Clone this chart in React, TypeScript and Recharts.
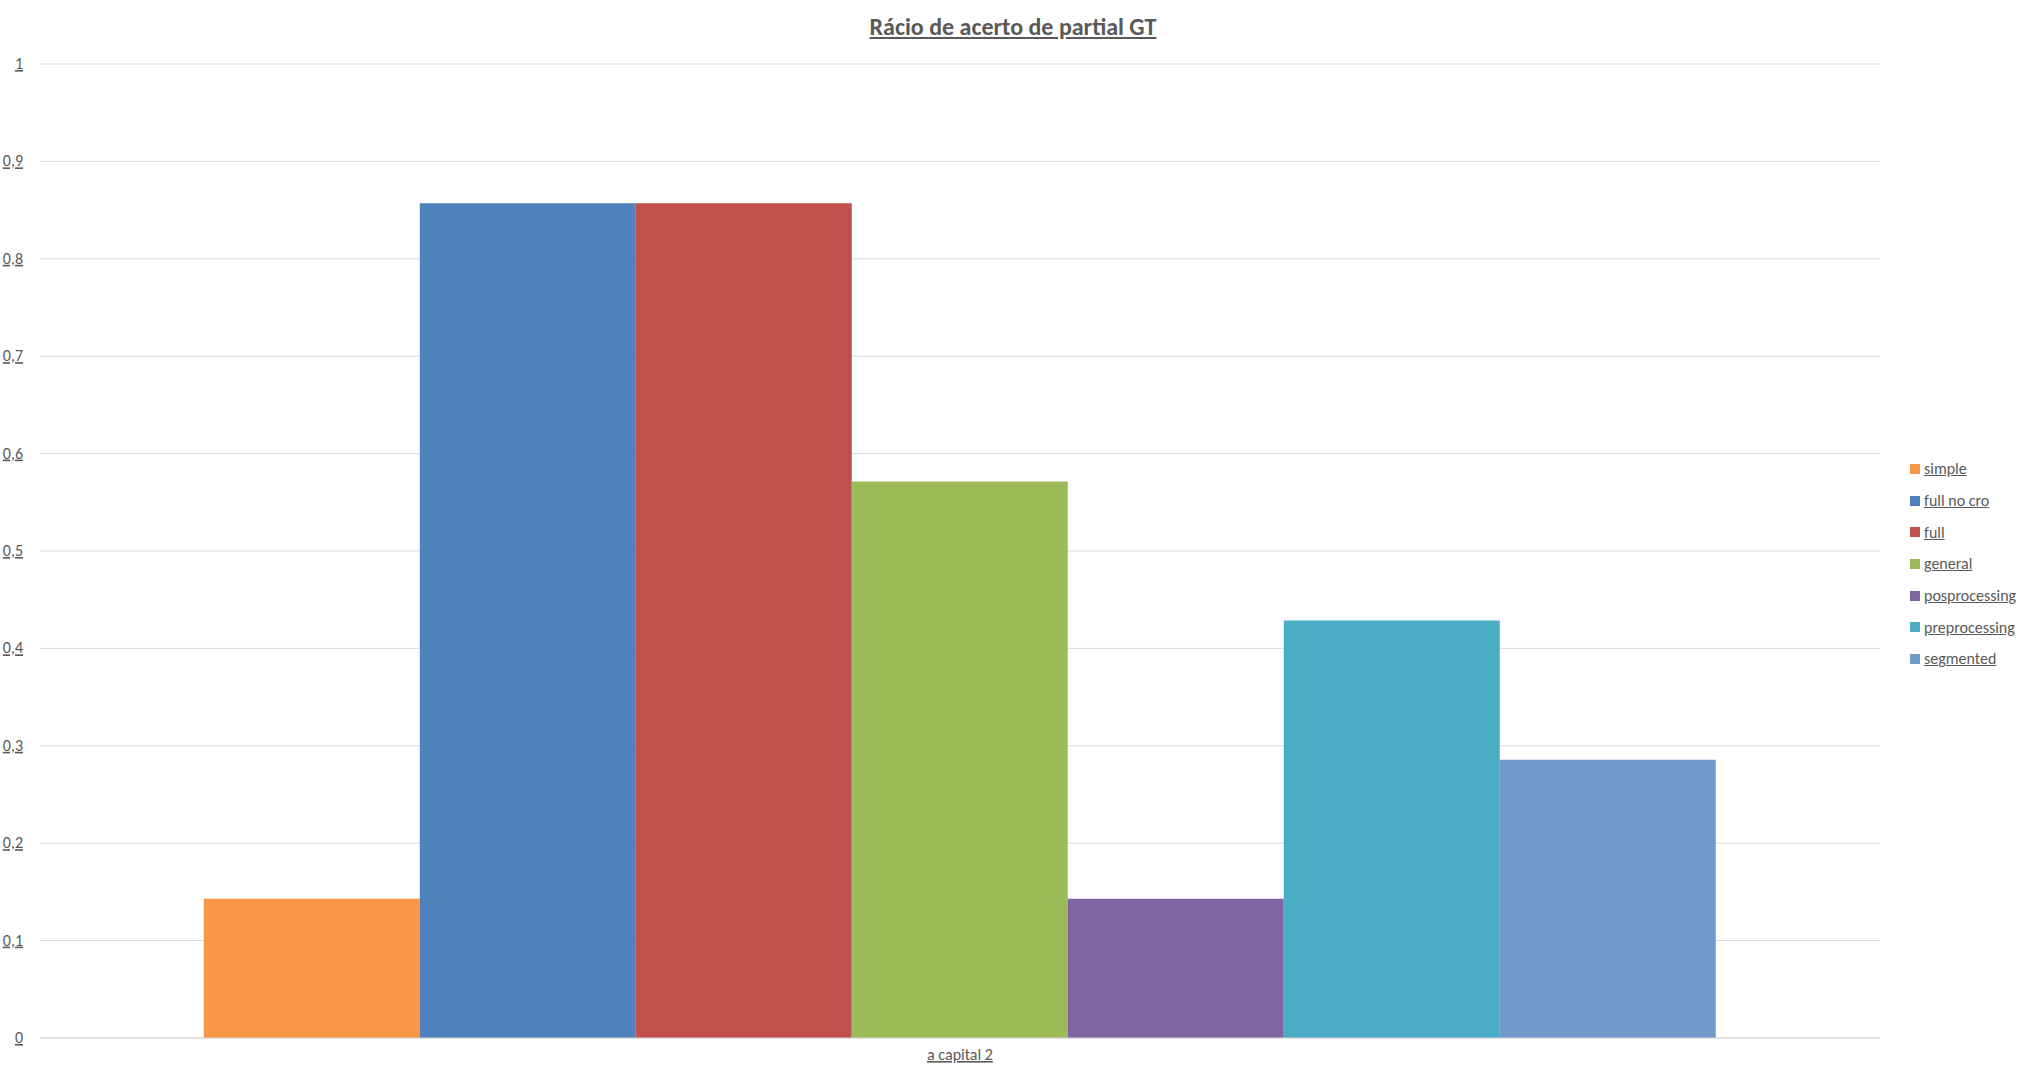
import { BarChart, Bar, XAxis, YAxis, CartesianGrid } from 'recharts';

const categories = ['a_capital_2'];
const seriesNames = ['simple', 'full_no_cro', 'full', 'general', 'posprocessing', 'preprocessing', 'segmented'];
const seriesValues = [0.1429, 0.8571, 0.8571, 0.5714, 0.1429, 0.4286, 0.2857];
const seriesColors = ['#F79646', '#4F81BD', '#C0504D', '#9BBB59', '#8064A2', '#4BACC6', '#729ACA'];
const yTicks = [0, 0.1, 0.2, 0.3, 0.4, 0.5, 0.6, 0.7, 0.8, 0.9, 1];

const data = categories.map((c) => {
  const row: Record<string, string | number> = { name: c };
  seriesNames.forEach((s, i) => (row[s] = seriesValues[i]));
  return row;
});

const font = 'Calibri, Carlito, "Liberation Sans", sans-serif';

const YTick = (props: any) => {
  const { y, payload } = props;
  return (
    <text x={23} y={y + 5} textAnchor="end" fill="#595959" fontSize={16} fontFamily={font} textDecoration="underline">
      {String(payload.value).replace('.', ',')}
    </text>
  );
};

const XTick = (props: any) => {
  const { x, y, payload } = props;
  return (
    <text x={x} y={y + 14} textAnchor="middle" fill="#595959" fontSize={16} fontFamily={font} textDecoration="underline">
      {payload.value.replace(/_/g, ' ')}
    </text>
  );
};

export default function App() {
  return (
    <div style={{ position: 'absolute', left: 0, top: 0, width: 2026, height: 1068, background: '#fff', fontFamily: font }}>
      <div style={{ position: 'absolute', top: 12, width: '100%', textAlign: 'center', fontSize: 24, fontWeight: 'bold', color: '#595959', textDecoration: 'underline' }}>
        Rácio de acerto de partial GT
      </div>
      <BarChart width={2026} height={1068} data={data} margin={{ top: 64, right: 146, bottom: 0, left: 0 }} barCategoryGap="8.9%" barGap={0}>
        <CartesianGrid vertical={false} stroke="#d9d9d9" />
        <XAxis dataKey="name" height={30} tick={<XTick />} tickLine={false} axisLine={{ stroke: '#d9d9d9' }} />
        <YAxis width={40} domain={[0, 1]} ticks={yTicks} tick={<YTick />} tickLine={false} axisLine={false} />
        {seriesNames.map((s, i) => (
          <Bar key={s} dataKey={s} fill={seriesColors[i]} isAnimationActive={false} />
        ))}
      </BarChart>
      <div style={{ position: 'absolute', left: 1910, top: 453 }}>
        {seriesNames.map((s, i) => (
          <div key={s} style={{ display: 'flex', alignItems: 'center', height: 31.7 }}>
            <div style={{ width: 10, height: 10, background: seriesColors[i], marginRight: 4 }} />
            <span style={{ fontSize: 16, color: '#595959', textDecoration: 'underline' }}>{s.replace(/_/g, ' ')}</span>
          </div>
        ))}
      </div>
    </div>
  );
}
